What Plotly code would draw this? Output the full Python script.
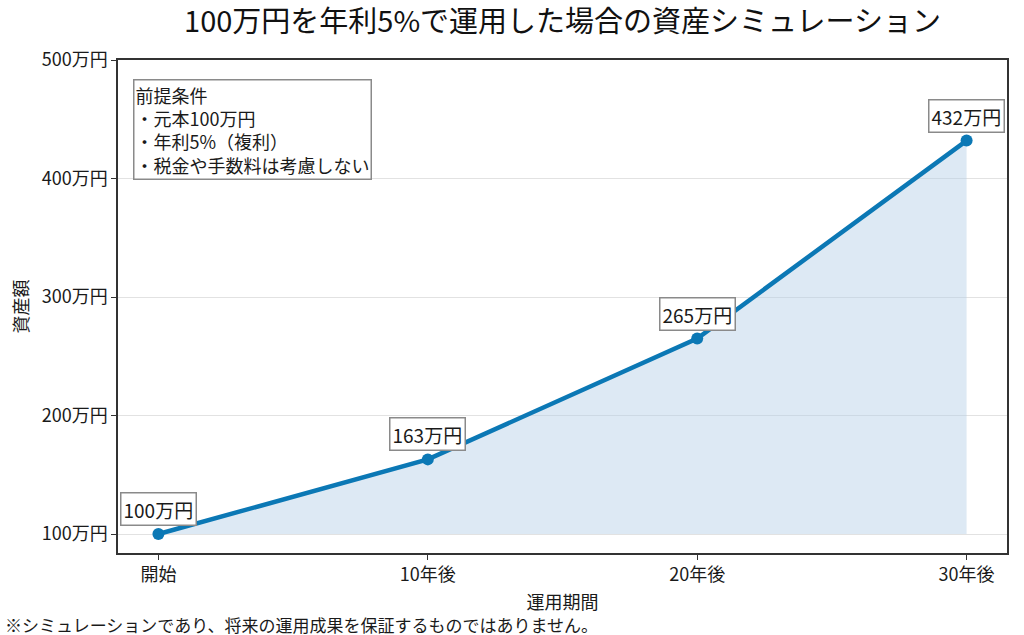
import plotly.graph_objects as go

# データ
periods = ['開始', '10年後', '20年後', '30年後']
values = [100, 163, 265, 432]          # 万円
baseline = [100, 100, 100, 100]        # 元本ライン(塗りつぶしの下端)
y_ticks = [100, 200, 300, 400, 500]
y_tick_labels = ['100万円', '200万円', '300万円', '400万円', '500万円']

FONT = 'Noto Sans CJK JP'
LINE_COLOR = '#0b78b5'
TEXT_COLOR = '#1a1a1a'

fig = go.Figure()

# 塗りつぶしの下端
fig.add_trace(go.Scatter(
    x=periods, y=baseline, mode='lines',
    line=dict(width=0), hoverinfo='skip', showlegend=False
))

# 資産額
fig.add_trace(go.Scatter(
    x=periods, y=values, mode='lines+markers',
    line=dict(color=LINE_COLOR, width=4.5),
    marker=dict(color=LINE_COLOR, size=12),
    fill='tonexty', fillcolor='rgba(180, 206, 230, 0.45)',
    showlegend=False
))

# 各点のラベル
for p, v in zip(periods, values):
    fig.add_annotation(
        x=p, y=v, text=f'{v}万円', showarrow=False, yshift=25,
        font=dict(family=FONT, size=19, color=TEXT_COLOR),
        bgcolor='white', bordercolor='#8a8a8a', borderwidth=1.5, borderpad=2
    )

# 前提条件
fig.add_annotation(
    xref='paper', yref='paper', x=0.017, y=0.961,
    xanchor='left', yanchor='top', align='left', showarrow=False,
    text='前提条件<br>・元本100万円<br>・年利5%（複利）<br>・税金や手数料は考慮しない',
    font=dict(family=FONT, size=18, color=TEXT_COLOR),
    bgcolor='white', bordercolor='#8a8a8a', borderwidth=1.5, borderpad=1
)

# 注記
fig.add_annotation(
    xref='paper', yref='paper', x=-0.1294, y=-0.146,
    xanchor='left', yanchor='middle', showarrow=False,
    text='※シミュレーションであり、将来の運用成果を保証するものではありません。',
    font=dict(family=FONT, size=17, color=TEXT_COLOR)
)

axis_common = dict(
    showline=True, linecolor='#333333', linewidth=1.5, mirror=True,
    ticks='outside', ticklen=5, tickcolor='#333333', tickwidth=1.2,
    tickfont=dict(family=FONT, size=18, color=TEXT_COLOR),
    title_font=dict(family=FONT, size=18, color=TEXT_COLOR),
    zeroline=False
)

fig.update_xaxes(
    title_text='運用期間', range=[-0.15, 3.15], showgrid=False,
    title_standoff=11, **axis_common
)
fig.update_yaxes(
    title_text='資産額', range=[84, 500], tickvals=y_ticks, ticktext=y_tick_labels,
    showgrid=True, gridcolor='#e2e2e2', gridwidth=1, title_standoff=8,
    **axis_common
)

fig.update_layout(
    width=1024, height=635,
    margin=dict(l=118, r=17, t=60, b=82),
    paper_bgcolor='white', plot_bgcolor='white',
    title=dict(
        text='100万円を年利5%で運用した場合の資産シミュレーション',
        x=0.5, xref='paper', xanchor='center', y=0.965, yanchor='middle',
        font=dict(family=FONT, size=29, color='#111111')
    ),
    font=dict(family=FONT)
)

fig.write_html(
    'out.html',
    config={'displayModeBar': False},
    post_script="document.body.style.margin='0';"
)
